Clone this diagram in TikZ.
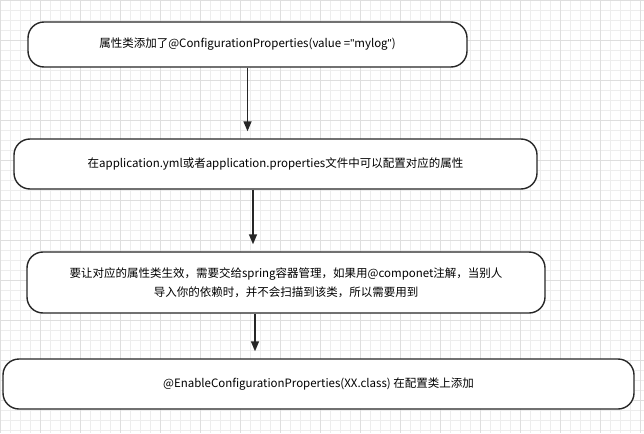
\documentclass[tikz,border=0pt]{standalone}
\usepackage{fontspec}
\setmainfont{Noto Sans CJK SC}
\newfontfamily\quotefont{Liberation Sans}
\usetikzlibrary{arrows.meta}

\begin{document}
\begin{tikzpicture}[x=1pt,y=-1pt,thick,
	box/.style={draw=black!85,line width=1.4pt,rounded corners=16pt,fill=white,font=\fontsize{11.5}{19}\selectfont,align=center,inner sep=0pt},
	flow/.style={draw=black!85,line width=1.4pt,-{Triangle[length=10pt,width=8pt]},shorten >=7pt}]
		\useasboundingbox (0,0) rectangle (644,433);
		\foreach \x in {0,10,...,640} \draw[black!7,line width=0.4pt] (\x,0) -- (\x,433);
		\foreach \y in {0,10,...,430} \draw[black!7,line width=0.4pt] (0,\y) -- (644,\y);
		\foreach \x in {0,40,...,640} \draw[black!13,line width=0.5pt] (\x,0) -- (\x,433);
		\foreach \y in {0,40,...,430} \draw[black!13,line width=0.5pt] (0,\y) -- (644,\y);

		\node (b1) [box, minimum width=439, minimum height=45] at (247.5,44.5) {属性类添加了@ConfigurationProperties(value ={\quotefont\symbol{34}}mylog{\quotefont\symbol{34}})};
		\node (b2) [box, minimum width=523, minimum height=50] at (275.5,164) {在application.yml或者application.properties文件中可以配置对应的属性};
		\node (b3) [box, minimum width=518, minimum height=61] at (286,282.5) {要让对应的属性类生效，需要交给spring容器管理，如果用@componet注解，当别人\\导入你的依赖时，并不会扫描到该类，所以需要用到};
		\node (b4) [box, minimum width=631, minimum height=50] at (318.5,384) {@EnableConfigurationProperties(XX.class) 在配置类上添加};

		\draw[flow] (b1.south) -- ([xshift=-28]b2.north);
		\draw[flow] ([xshift=-22.5]b2.south) -- ([xshift=-33]b3.north);
		\draw[flow] ([xshift=-31]b3.south) -- ([xshift=-63.5]b4.north);
	\end{tikzpicture}
\end{document}
